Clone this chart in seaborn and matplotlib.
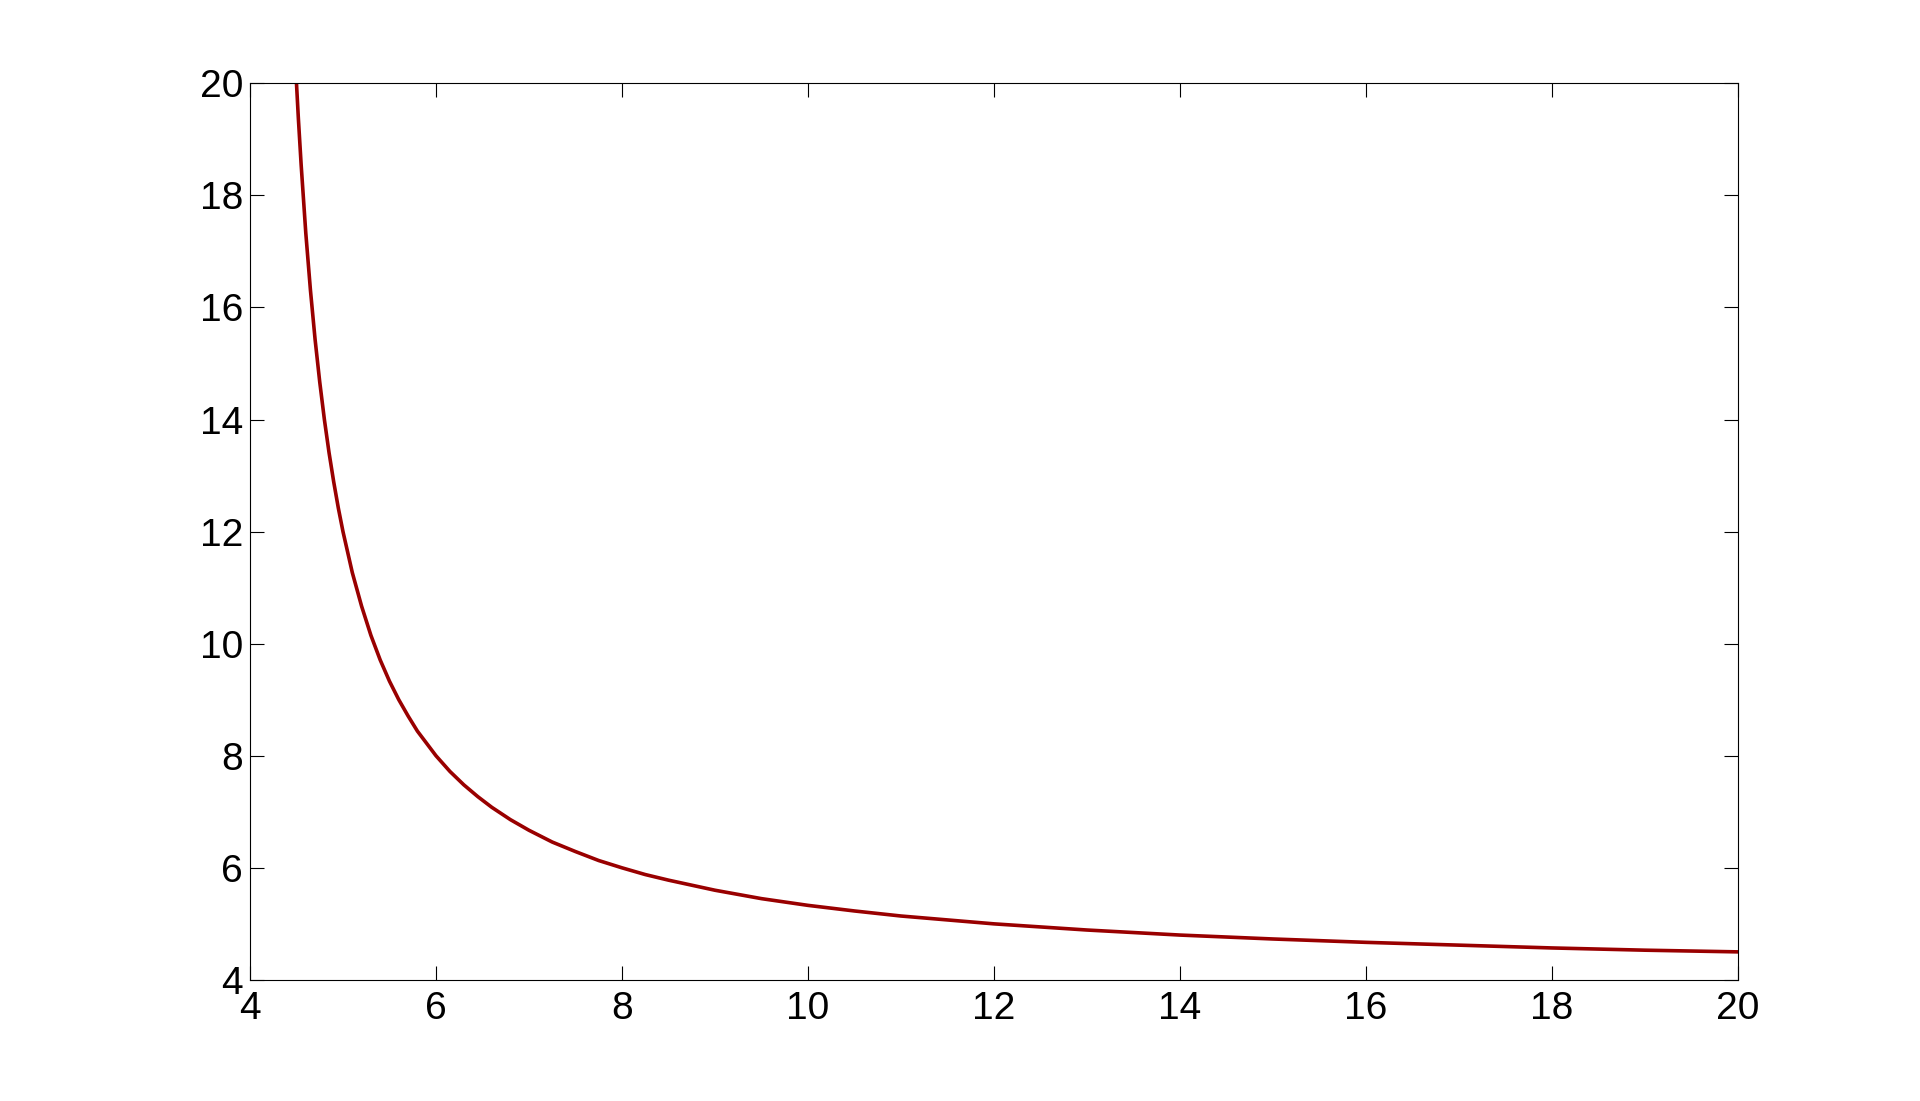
import pandas as pd
import matplotlib
matplotlib.use("Agg")
import matplotlib.pyplot as plt
import seaborn as sns

# values
x_vals = [4.5, 4.52, 4.55, 4.6, 4.65, 4.7, 4.75, 4.8, 4.85, 4.9, 4.95, 5.0, 5.1,
          5.2, 5.3, 5.4, 5.5, 5.6, 5.7, 5.8, 6.0, 6.15, 6.3, 6.45, 6.6, 6.8,
          7.0, 7.25, 7.5, 7.75, 8.0, 8.25, 8.5, 9.0, 9.5, 10.0, 10.5, 11.0,
          11.5, 12.0, 13.0, 14.0, 15.0, 16.0, 17.0, 18.0, 19.0, 20.0]
y_vals = [20.0, 19.38, 18.55, 17.33, 16.31, 15.43, 14.67, 14.0, 13.41, 12.89,
          12.42, 12.0, 11.27, 10.67, 10.15, 9.71, 9.33, 9.0, 8.71, 8.44, 8.0,
          7.72, 7.48, 7.27, 7.08, 6.86, 6.67, 6.46, 6.29, 6.13, 6.0, 5.88, 5.78,
          5.6, 5.45, 5.33, 5.23, 5.14, 5.07, 5.0, 4.89, 4.8, 4.73, 4.67, 4.62,
          4.57, 4.53, 4.5]
x_ticks = [4, 6, 8, 10, 12, 14, 16, 18, 20]
y_ticks = [4, 6, 8, 10, 12, 14, 16, 18, 20]

sns.set_style("white")
plt.rcParams['font.family'] = ['Liberation Sans', 'DejaVu Sans']

df = pd.DataFrame({'x': x_vals, 'y': y_vals})

fig = plt.figure(figsize=(19.2, 11.01), dpi=100)
ax = fig.add_axes([0.1302, 0.11, 0.775, 0.8143])
sns.lineplot(x='x', y='y', data=df, ax=ax, color='#990000', linewidth=2.6)

ax.set_xlim(4, 20)
ax.set_ylim(4, 20)
ax.set_xticks(x_ticks)
ax.set_yticks(y_ticks)
ax.set_xlabel("")
ax.set_ylabel("")
ax.tick_params(direction='in', length=10, width=0.8, labelsize=28,
               top=True, right=True, bottom=True, left=True,
               color='black', labelcolor='black')
ax.tick_params(axis='x', pad=8)
ax.tick_params(axis='y', pad=5)
for s in ax.spines.values():
    s.set_color('black')
    s.set_linewidth(0.8)

fig.savefig('out.png', dpi=100, facecolor='white')
